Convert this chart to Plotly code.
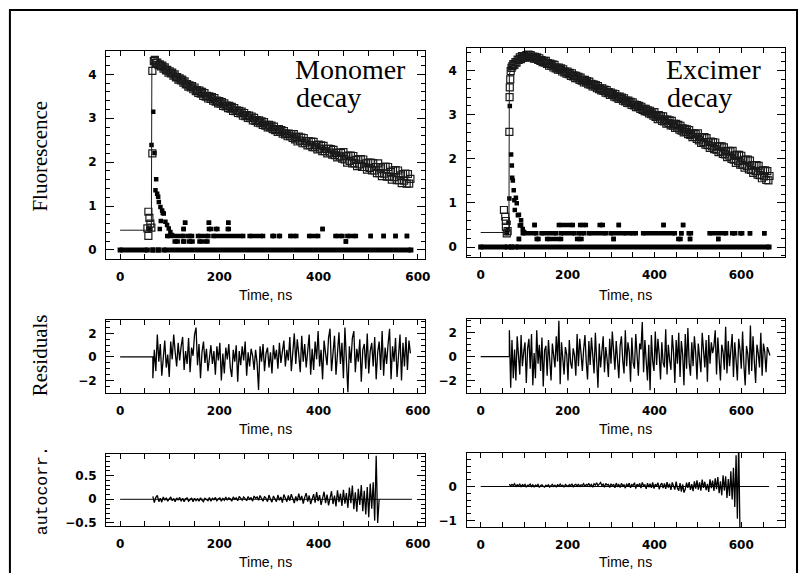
import plotly.graph_objects as go

# ---------------- data ----------------
# ---- Monomer decay panel (time in ns, log10 counts) ----
mono_rise_t = [55, 57, 59, 61, 57, 63, 65, 65, 68]
mono_rise_y = [0.49, 0.87, 0.73, 0.60, 0.32, 0.51, 2.20, 4.08, 4.30]
mono_decay_start = 70
mono_decay_step = 2.5
mono_decay_y = [
    4.33, 4.26, 4.27, 4.21, 4.23, 4.18, 4.20, 4.13, 4.16, 4.09,
    4.10, 4.04, 4.07, 4.02, 4.04, 3.97, 4.00, 3.93, 3.94, 3.88,
    3.91, 3.86, 3.88, 3.81, 3.84, 3.77, 3.78, 3.72, 3.75, 3.70,
    3.73, 3.66, 3.70, 3.62, 3.64, 3.58, 3.63, 3.56, 3.60, 3.51,
    3.57, 3.49, 3.51, 3.45, 3.50, 3.44, 3.48, 3.40, 3.46, 3.38,
    3.40, 3.34, 3.39, 3.33, 3.37, 3.28, 3.34, 3.27, 3.29, 3.23,
    3.28, 3.22, 3.26, 3.17, 3.23, 3.16, 3.18, 3.12, 3.17, 3.11,
    3.15, 3.06, 3.12, 3.05, 3.07, 3.01, 3.06, 3.00, 3.04, 2.95,
    3.01, 2.94, 2.96, 2.90, 2.95, 2.89, 2.93, 2.85, 2.91, 2.83,
    2.85, 2.79, 2.85, 2.79, 2.83, 2.75, 2.81, 2.73, 2.75, 2.69,
    2.75, 2.69, 2.73, 2.65, 2.71, 2.63, 2.65, 2.59, 2.65, 2.59,
    2.64, 2.55, 2.64, 2.52, 2.57, 2.47, 2.58, 2.49, 2.56, 2.43,
    2.55, 2.43, 2.48, 2.38, 2.48, 2.39, 2.47, 2.34, 2.46, 2.34,
    2.39, 2.29, 2.40, 2.31, 2.38, 2.25, 2.37, 2.25, 2.30, 2.20,
    2.31, 2.22, 2.30, 2.17, 2.28, 2.16, 2.21, 2.11, 2.22, 2.13,
    2.21, 2.08, 2.23, 2.06, 2.13, 1.99, 2.15, 2.03, 2.15, 1.97,
    2.14, 1.97, 2.05, 1.91, 2.07, 1.95, 2.07, 1.89, 2.06, 1.89,
    1.97, 1.83, 1.99, 1.87, 1.99, 1.81, 1.98, 1.81, 1.89, 1.75,
    1.97, 1.75, 1.86, 1.68, 1.89, 1.74, 1.90, 1.67, 1.89, 1.67,
    1.78, 1.60, 1.81, 1.66, 1.82, 1.59, 1.81, 1.59, 1.70, 1.52,
    1.73, 1.58, 1.74, 1.51, 1.73, 1.51, 1.62,
]
mono_fit_t = [0, 63, 64, 68, 100, 200, 300, 400, 500, 585]
mono_fit_y = [0.45, 0.45, 4.20, 4.30, 4.05, 3.36, 2.82, 2.34, 1.91, 1.57]
mono_lamp_t = [57, 61, 63.3, 66.7, 69.3, 71.3, 72.7, 74.7, 76.7, 78, 80, 81.3, 82,
               84.7, 86, 88, 91.3, 94.7, 98, 101.3, 104.7]
mono_lamp_y = [0.49, 0.48, 2.39, 3.15, 2.21, 1.36, 1.61, 1.28, 1.21, 1.09, 0.48, 0.98,
               0.66, 0.90, 0.84, 0.83, 0.64, 0.57, 0.49, 0.41, 0.34]
# lamp counts drawn as runs of equal value: [start, end, start, end, ...]
mono_zero_runs = [0, 55, 66, 66, 77, 77, 88, 586]
mono_row1_lvl = 0.32
mono_row1_runs = [95, 128, 137, 145, 157, 178, 188, 248, 261, 288, 307, 310, 320, 322,
                  343, 355, 381, 399, 434, 448, 458, 475, 505, 505, 531, 531, 555, 555, 578, 578]
mono_row2_lvl = 0.19
mono_row2_runs = [110, 116, 127, 129, 139, 146, 160, 176, 455, 455]
mono_row3_lvl = 0.48
mono_row3_runs = [128, 128, 179, 183, 193, 196, 217, 219, 408, 408]
mono_row4_lvl = 0.62
mono_row4_runs = [131, 131, 179, 179, 218, 218]

# ---- Excimer decay panel ----
exc_rise_t = [53.5, 56.5, 58, 58, 60, 62, 66, 66.5, 67, 68, 69, 71, 73]
exc_rise_y = [0.84, 0.69, 0.59, 0.46, 0.31, 0.36, 2.61, 3.40, 3.62, 3.80, 3.99, 4.06, 4.10]
exc_decay_start = 75
exc_decay_step = 2.5
exc_decay_y = [
    4.15, 4.13, 4.19, 4.18, 4.25, 4.24, 4.30, 4.26, 4.33, 4.29,
    4.33, 4.30, 4.35, 4.32, 4.36, 4.30, 4.35, 4.30, 4.32, 4.27,
    4.31, 4.27, 4.30, 4.24, 4.28, 4.22, 4.24, 4.19, 4.22, 4.18,
    4.22, 4.15, 4.17, 4.11, 4.16, 4.11, 4.14, 4.07, 4.13, 4.05,
    4.07, 4.02, 4.07, 4.02, 4.05, 3.98, 4.03, 3.96, 3.98, 3.93,
    3.98, 3.92, 3.95, 3.88, 3.94, 3.87, 3.89, 3.83, 3.88, 3.83,
    3.86, 3.79, 3.84, 3.77, 3.79, 3.73, 3.79, 3.73, 3.76, 3.69,
    3.75, 3.68, 3.70, 3.64, 3.69, 3.64, 3.67, 3.60, 3.65, 3.58,
    3.60, 3.55, 3.60, 3.54, 3.57, 3.50, 3.56, 3.49, 3.51, 3.45,
    3.50, 3.45, 3.48, 3.41, 3.47, 3.39, 3.41, 3.36, 3.41, 3.36,
    3.39, 3.32, 3.37, 3.30, 3.32, 3.27, 3.32, 3.26, 3.29, 3.22,
    3.28, 3.21, 3.23, 3.17, 3.22, 3.17, 3.20, 3.13, 3.18, 3.11,
    3.13, 3.08, 3.13, 3.07, 3.10, 3.03, 3.09, 3.01, 3.03, 2.98,
    3.06, 2.95, 2.99, 2.90, 2.99, 2.91, 2.97, 2.86, 2.96, 2.85,
    2.89, 2.80, 2.89, 2.81, 2.87, 2.76, 2.86, 2.75, 2.79, 2.70,
    2.79, 2.71, 2.77, 2.66, 2.75, 2.64, 2.69, 2.60, 2.68, 2.61,
    2.67, 2.56, 2.65, 2.54, 2.58, 2.49, 2.58, 2.50, 2.56, 2.45,
    2.58, 2.42, 2.49, 2.36, 2.49, 2.38, 2.49, 2.32, 2.47, 2.31,
    2.38, 2.25, 2.39, 2.28, 2.38, 2.22, 2.37, 2.21, 2.28, 2.15,
    2.28, 2.17, 2.28, 2.11, 2.26, 2.10, 2.17, 2.04, 2.18, 2.07,
    2.17, 2.00, 2.18, 1.98, 2.08, 1.91, 2.09, 1.95, 2.09, 1.87,
    2.07, 1.87, 1.97, 1.80, 1.98, 1.84, 1.98, 1.76, 1.96, 1.75,
    1.85, 1.68, 1.86, 1.72, 1.86, 1.64, 1.84, 1.63, 1.73, 1.56,
    1.74, 1.60, 1.74, 1.52, 1.72, 1.51, 1.61,
]
exc_fit_t = [0, 65, 66, 70, 100, 130, 400, 665]
exc_fit_y = [0.33, 0.33, 3.90, 4.10, 4.32, 4.27, 3.00, 1.57]
exc_lamp_t = [60, 62, 64, 66, 67, 68.5, 70, 71.7, 72.5, 74, 76, 77.5, 78.5, 81, 83,
              85.6, 88, 90, 93, 93, 96.8, 100]
exc_lamp_y = [0.31, 0.40, 0.55, 1.10, 3.20, 4.06, 2.10, 1.85, 1.57, 1.51, 1.29, 1.06,
              0.84, 1.12, 0.99, 0.72, 0.73, 0.49, 0.61, 0.50, 0.41, 0.34]
exc_zero_runs = [0, 61, 71, 71, 81, 664]
exc_row1_lvl = 0.31
exc_row1_runs = [97, 128, 140, 174, 185, 216, 226, 238, 249, 288, 299, 334, 344, 357,
                 374, 447, 462, 462, 479, 484, 527, 565, 579, 586, 598, 602, 620, 620, 653, 653]
exc_row2_lvl = 0.50
exc_row2_runs = [124, 124, 180, 212, 229, 242, 274, 281, 318, 318, 421, 421, 466, 466]
exc_row3_lvl = 0.18
exc_row3_runs = [88, 88, 129, 133, 153, 185, 222, 232, 306, 306, 455, 460, 482, 482, 547, 547]

# ---- Weighted residuals ----
res_start = 66
res_step = 3
mono_res = [
    -1.8, 0.6, -1.2, 1.9, -0.4, 1.1, -1.6, 0.3, 1.4, -0.9, 0.2, -1.7,
    1.3, -0.2, 1.9, 0.4, -0.8, 1.2, -0.3, 0.9, 1.7, -1.1, 0.5, -0.6,
    1.6, -1.3, 0.8, 0.1, 1.9, 2.5, -0.7, 1.1, -1.8, 0.4, 1.3, -0.5,
    0.7, -1.2, 0.2, 1.0, -0.6, 0.5, -1.5, 0.9, -0.3, 1.2, -2.0, 0.3,
    -1.4, 0.8, -0.2, 1.1, -0.9, -1.7, 0.6, -0.4, 1.0, -2.1, 0.5, -0.7,
    0.9, -0.3, 1.3, -1.6, 0.4, -0.8, 0.7, 0.1, -1.1, 0.6, -0.5, -2.8,
    0.9, -0.4, 1.1, -1.2, 0.3, 0.8, -0.9, 0.4, -1.4, 1.0, -0.2, 0.6,
    -1.0, 1.2, -0.5, 0.3, 1.4, -0.8, 0.6, -0.3, 1.7, -1.2, 0.9, 2.0,
    -0.6, 1.5, 0.2, -1.3, 1.8, -0.4, 1.1, -0.9, 0.5, 1.9, -1.5, 0.7,
    -1.1, 1.3, -0.2, 2.2, -0.8, 0.6, -1.9, 1.4, 0.3, -0.7, 1.6, 2.4,
    -1.2, 0.8, 1.8, -1.5, 0.4, 2.1, -0.6, 1.2, -1.8, 2.5, -0.3, -3.0,
    0.9, -0.5, 1.6, 2.2, -1.3, 0.7, -0.4, 1.5, -2.1, 0.6, 1.1, -1.0,
    2.0, -1.4, 0.5, 1.2, -0.8, 1.7, -1.9, 0.4, 1.3, -1.1, 2.2, -1.6,
    0.8, -0.6, 1.1, 2.4, -1.9, 0.9, -0.4, 1.6, -1.7, 0.5, 1.9, -2.0,
    1.2, -0.8, 1.7, -1.1, 1.4, 0.3,
]
exc_res = [
    2.2, -2.6, 1.4, -1.8, 0.6, -2.0, 1.7, -0.5, -1.5, 1.8, -0.8, 0.4,
    1.2, -2.2, 0.7, 1.5, -1.0, 1.9, -2.4, 0.3, -1.8, 2.2, -0.6, 1.0,
    -1.2, 1.6, -2.5, 0.5, 0.9, -1.6, 1.4, -0.3, -2.0, 1.1, 0.2, -0.9,
    1.7, -0.4, 3.0, -2.3, 1.2, -0.6, -1.5, 0.8, 0.2, -2.0, 1.4, -0.5,
    -1.0, 0.7, 0.1, -1.6, 1.9, -0.8, 1.5, 0.3, -1.2, 0.6, 1.8, -0.4,
    -1.9, 1.3, -0.7, 1.6, 0.2, -1.4, 2.0, -0.5, -2.6, 1.1, -0.9, 0.4,
    1.7, -1.3, 0.8, -0.2, -1.7, 1.5, -0.6, 2.1, 0.3, -1.1, 1.3, -0.4,
    -1.8, 0.9, 1.7, -0.3, -1.4, 2.2, -0.8, 1.2, 0.4, -2.1, 1.6, -0.5,
    -1.0, 1.9, 0.2, -1.6, 1.1, 0.6, 2.9, -1.3, 1.4, -0.7, -2.0, 1.0,
    -2.8, 1.8, -0.4, -1.2, 2.1, -0.7, 1.5, 0.2, -1.9, 1.2, -0.5, -0.9,
    2.3, -1.5, 1.0, -0.3, -1.1, 1.8, 0.4, -2.2, 1.4, -0.6, 2.0, -1.7,
    1.3, 0.2, -2.4, 1.9, -1.0, 2.4, -0.5, -1.6, 1.2, -0.8, 1.7, 0.3,
    -1.9, 1.1, -0.4, -1.3, 2.0, 0.5, -0.9, 1.4, -2.1, 1.8, -0.6, 1.2,
    0.3, 0.9, 2.2, -1.5, 1.6, -0.2, -2.0, 1.0, 0.4, -1.1, 2.5, -1.4,
    1.3, -0.8, 0.5, 1.9, -1.7, 1.2, -0.3, -2.0, 1.5, 0.6, -1.0, 2.1,
    -0.7, -2.4, 0.9, 0.2, -1.5, 2.6, -1.2, 1.7, -0.4, -2.2, 1.0, 0.3,
    -0.9, 2.0, -1.6, 1.1, 0.4, -1.3, 0.8, 0.5, 0.1,
]

# ---- Autocorrelation of residuals ----
ac_start = 66
ac_step = 3
mono_ac = [
    0.06, -0.07, 0.04, 0.08, -0.05, 0.02, -0.06, 0.05, -0.02, 0.03,
    -0.04, 0.02, 0.05, -0.03, 0.01, -0.05, 0.03, -0.02, 0.04, -0.04,
    0.02, -0.05, 0.01, 0.03, -0.04, -0.01, 0.03, -0.05, 0.02, -0.03,
    0.01, -0.04, 0.03, -0.02, -0.05, 0.02, 0.00, -0.03, 0.04, -0.04,
    0.02, -0.01, 0.04, -0.03, 0.01, 0.03, -0.04, 0.02, -0.02, 0.05,
    -0.02, 0.03, 0.01, -0.04, 0.05, 0.00, 0.03, -0.03, 0.06, 0.01,
    -0.02, 0.05, 0.02, -0.03, 0.06, 0.00, 0.04, -0.04, 0.07, 0.02,
    0.05, -0.02, 0.08, 0.01, -0.04, 0.06, 0.02, -0.05, 0.09, 0.00,
    -0.06, 0.07, 0.02, -0.05, 0.09, -0.02, 0.05, -0.07, 0.10, 0.01,
    -0.05, 0.08, -0.03, 0.11, 0.02, -0.08, 0.06, -0.04, 0.12, -0.02,
    0.07, -0.09, 0.04, 0.13, -0.05, 0.08, -0.10, 0.03, 0.11, -0.07,
    0.15, -0.04, 0.09, -0.12, 0.06, 0.16, -0.08, 0.10, -0.13, 0.05,
    0.17, -0.10, 0.08, -0.15, 0.19, -0.06, 0.12, -0.14, 0.20, -0.09,
    0.13, -0.18, 0.25, -0.08, 0.29, -0.21, 0.15, -0.26, 0.22, -0.12,
    0.30, -0.25, 0.18, -0.32, 0.26, -0.38, 0.33, -0.20, 0.36, -0.45,
    0.92, -0.50, 0.00,
]
exc_ac = [
    0.07, 0.01, 0.06, 0.03, 0.08, -0.01, 0.05, 0.02, 0.07, 0.00,
    0.05, 0.02, 0.06, -0.02, 0.04, 0.03, 0.07, 0.00, 0.05, -0.01,
    0.04, 0.02, 0.06, -0.03, 0.03, 0.05, 0.01, -0.02, 0.04, 0.01,
    0.05, -0.02, 0.03, 0.06, 0.00, 0.04, -0.01, 0.05, 0.02, 0.07,
    0.01, 0.04, -0.02, 0.06, 0.03, 0.00, 0.05, 0.02, 0.08, -0.01,
    0.04, 0.06, 0.01, 0.07, -0.01, 0.05, 0.03, 0.08, 0.00, 0.06,
    0.03, 0.09, 0.01, 0.06, -0.02, 0.08, 0.04, 0.11, 0.02, 0.06,
    0.12, 0.03, 0.07, -0.02, 0.09, 0.04, 0.06, -0.03, 0.08, 0.02,
    0.07, -0.04, 0.10, 0.01, 0.06, -0.03, 0.09, 0.02, 0.05, -0.05,
    0.08, 0.00, 0.10, -0.04, 0.06, 0.03, 0.11, -0.06, 0.07, 0.01,
    0.09, -0.05, 0.12, 0.02, 0.05, -0.07, 0.10, -0.02, 0.08, -0.04,
    0.12, -0.06, 0.07, 0.01, 0.11, -0.08, 0.05, 0.10, -0.05, 0.09,
    -0.07, 0.13, -0.03, 0.08, -0.10, 0.12, 0.00, -0.09, 0.14, -0.05,
    -0.12, 0.10, -0.15, 0.06, -0.18, -0.08, 0.11, -0.04, 0.13, -0.10,
    0.07, -0.14, 0.15, -0.06, 0.18, -0.09, 0.12, -0.12, 0.20, -0.04,
    0.14, -0.11, 0.08, -0.16, 0.21, -0.05, 0.17, -0.13, 0.24, -0.08,
    0.28, -0.20, 0.15, -0.26, 0.33, -0.12, 0.30, -0.34, 0.22, -0.28,
    0.45, -0.38, 0.55, -0.60, 0.92, -0.95, 1.30, -1.40,
]
mono_ac_end = 588
exc_ac_end = 664

# axis ticks
x_tick_vals = [0, 200, 400, 600]
x_tick_text = ["0", "200", "400", "600"]

# ---------------- figure ----------------
W, H = 806, 573


def xdom(a, b):
    return [a / W, b / W]


def ydom(top, bot):
    return [1 - bot / H, 1 - top / H]


def grid(start, step, n):
    return [start + step * i for i in range(n)]


def runs_xy(runs, level):
    xs, ys = [], []
    for i in range(0, len(runs), 2):
        xs += [runs[i], runs[i + 1], None]
        ys += [level, level, None]
    return xs, ys


fig = go.Figure()
INK = "black"
GRAY = "#1a1a1a"


def add_lamp(runs, level, xa, ya, width=4.5):
    xs, ys = runs_xy(runs, level)
    fig.add_trace(go.Scatter(x=xs, y=ys, mode="lines+markers", xaxis=xa, yaxis=ya,
                             line=dict(color=INK, width=width),
                             marker=dict(symbol="square", size=width, color=INK, line=dict(width=0)),
                             showlegend=False, hoverinfo="skip"))


open_sq = dict(symbol="square-open", size=7, color=GRAY, line=dict(width=1.2, color=GRAY))

# Monomer top-left (x, y)
for runs, lvl in [(mono_zero_runs, 0.0), (mono_row1_runs, mono_row1_lvl),
                  (mono_row2_runs, mono_row2_lvl), (mono_row3_runs, mono_row3_lvl),
                  (mono_row4_runs, mono_row4_lvl)]:
    add_lamp(runs, lvl, "x", "y", 5 if lvl == 0.0 else 4.5)
fig.add_trace(go.Scatter(x=mono_lamp_t, y=mono_lamp_y, mode="markers", xaxis="x", yaxis="y",
                         marker=dict(symbol="square", size=4.5, color=INK, line=dict(width=0)),
                         showlegend=False))
fig.add_trace(go.Scatter(x=mono_fit_t, y=mono_fit_y, mode="lines", xaxis="x", yaxis="y",
                         line=dict(color=GRAY, width=1), showlegend=False))
mono_t = mono_rise_t + grid(mono_decay_start, mono_decay_step, len(mono_decay_y))
fig.add_trace(go.Scatter(x=mono_t, y=mono_rise_y + mono_decay_y, mode="markers", xaxis="x", yaxis="y",
                         marker=open_sq, showlegend=False))

# Excimer top-right (x2, y2)
for runs, lvl in [(exc_zero_runs, 0.0), (exc_row1_runs, exc_row1_lvl),
                  (exc_row2_runs, exc_row2_lvl), (exc_row3_runs, exc_row3_lvl)]:
    add_lamp(runs, lvl, "x2", "y2", 5 if lvl == 0.0 else 4.5)
fig.add_trace(go.Scatter(x=exc_lamp_t, y=exc_lamp_y, mode="markers", xaxis="x2", yaxis="y2",
                         marker=dict(symbol="square", size=4.5, color=INK, line=dict(width=0)),
                         showlegend=False))
fig.add_trace(go.Scatter(x=exc_fit_t, y=exc_fit_y, mode="lines", xaxis="x2", yaxis="y2",
                         line=dict(color=GRAY, width=1), showlegend=False))
exc_t = exc_rise_t + grid(exc_decay_start, exc_decay_step, len(exc_decay_y))
fig.add_trace(go.Scatter(x=exc_t, y=exc_rise_y + exc_decay_y, mode="markers", xaxis="x2", yaxis="y2",
                         marker=open_sq, showlegend=False))

# Residuals (flat before the excitation, then the weighted residuals)
for vals, xa, ya in [(mono_res, "x3", "y3"), (exc_res, "x4", "y4")]:
    t = grid(res_start, res_step, len(vals))
    fig.add_trace(go.Scatter(x=[0, res_start] + t, y=[0, 0] + vals, mode="lines", xaxis=xa, yaxis=ya,
                             line=dict(color=INK, width=1.3), showlegend=False))

# Autocorrelation
for vals, end, xa, ya in [(mono_ac, mono_ac_end, "x5", "y5"), (exc_ac, exc_ac_end, "x6", "y6")]:
    t = grid(ac_start, ac_step, len(vals))
    fig.add_trace(go.Scatter(x=[0, end], y=[0, 0], mode="lines", xaxis=xa, yaxis=ya,
                             line=dict(color=INK, width=1), showlegend=False))
    fig.add_trace(go.Scatter(x=t, y=vals, mode="lines", xaxis=xa, yaxis=ya,
                             line=dict(color=INK, width=1.3), showlegend=False))

# ---------------- axes ----------------
tickfont = dict(family="DejaVu Sans", size=12, color="black", weight="bold")
common = dict(showline=True, linecolor="black", linewidth=1.4, mirror="allticks",
              ticks="inside", tickcolor="black", tickwidth=1, showgrid=False, zeroline=False,
              tickfont=tickfont, fixedrange=True)

geo = {
    1: ((107, 428), (51, 261), [-28, 614], [-0.21, 4.54], 1, 0.2),
    2: ((470, 791), (48, 259), [-32.7, 700.9], [-0.23, 4.52], 1, 0.2),
    3: ((107, 428), (322, 396), [-28, 614], [-3.08, 3.16], 2, 0.5),
    4: ((470, 791), (321, 396), [-32.7, 700.9], [-3.06, 3.17], 2, 0.5),
    5: ((107, 428), (457, 530), [-28, 614], [-0.57, 0.96], 0.5, 0.1),
    6: ((470, 791), (456, 531), [-32.7, 700.9], [-1.2, 0.99], 1, 0.2),
}

layout_axes = {}
for i, (xp, yp, xr, yr, dt, mdt) in geo.items():
    sx = "" if i == 1 else str(i)
    layout_axes["xaxis" + sx] = dict(common, domain=xdom(*xp), range=xr, anchor="y" + sx,
                                     tickmode="array", tickvals=x_tick_vals, ticktext=x_tick_text,
                                     ticklen=5, ticklabelstandoff=6,
                                     minor=dict(dtick=50, tick0=0, ticklen=5, ticks="inside",
                                                tickcolor="black", showgrid=False))
    layout_axes["yaxis" + sx] = dict(common, domain=ydom(*yp), range=yr, anchor="x" + sx,
                                     dtick=dt, tick0=0, ticklen=8, ticklabelstandoff=6,
                                     minor=dict(dtick=mdt, tick0=0, ticklen=4, ticks="inside",
                                                tickcolor="black", showgrid=False))


# ---------------- text ----------------
def px_ann(text, x, y, size, family, xanchor="center", angle=0, yanchor="middle"):
    return dict(text=text, x=x / W, y=1 - y / H, xref="paper", yref="paper",
                showarrow=False, xanchor=xanchor, yanchor=yanchor, textangle=angle,
                font=dict(family=family, size=size, color="black"))


serif = "Liberation Serif, Times New Roman, serif"
sans = "Liberation Sans, Arial, sans-serif"
mono = "Liberation Mono, Courier New, monospace"

annotations = [
    px_ann("Monomer", 295, 70, 28, serif, xanchor="left"),
    px_ann("decay", 296, 98, 28, serif, xanchor="left"),
    px_ann("Excimer", 669, 70, 28, serif, xanchor="left"),
    px_ann("decay", 670, 98, 28, serif, xanchor="left"),
    px_ann("Fluorescence", 40, 157, 21, serif, angle=-90),
    px_ann("Residuals", 40, 358, 21, serif, angle=-90),
    px_ann("autocorr.", 43, 494, 16.5, mono, angle=-90),
]
for cx, cy in [(267.5, 297), (630.5, 297), (267.5, 432), (630.5, 432), (267.5, 566), (630.5, 566)]:
    annotations.append(px_ann("Time, ns", cx, cy, 14, sans))

shapes = [dict(type="rect", xref="paper", yref="paper",
               x0=10 / W, x1=803 / W, y0=1 - 580 / H, y1=1 - 10 / H,
               line=dict(color="black", width=2), fillcolor="rgba(0,0,0,0)")]

fig.update_layout(width=W, height=H, margin=dict(l=0, r=0, t=0, b=0),
                  paper_bgcolor="white", plot_bgcolor="white", showlegend=False,
                  annotations=annotations, shapes=shapes, **layout_axes)

fig.write_html("out.html")
